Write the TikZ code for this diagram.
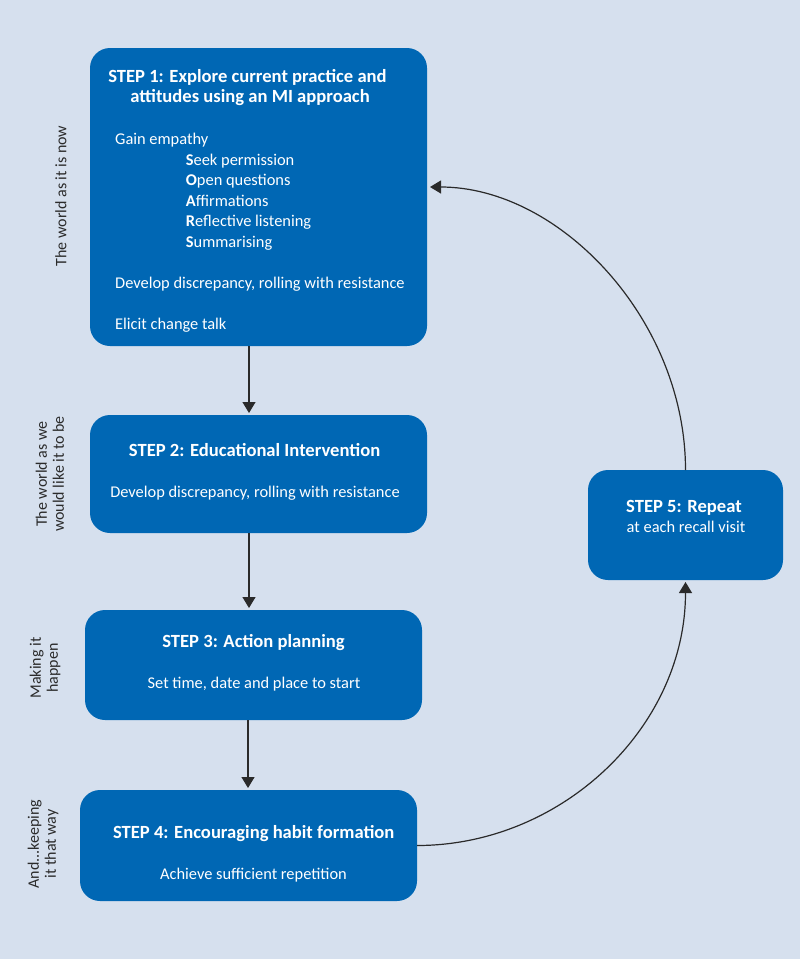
\documentclass[tikz,border=0pt]{standalone}
\usepackage{fontspec}
\setmainfont{Carlito}
\usetikzlibrary{arrows.meta}
\definecolor{bg}{HTML}{D6E0EE}
\definecolor{boxblue}{HTML}{0067B4}
\definecolor{sidegray}{HTML}{2B2B2B}
\definecolor{linegray}{HTML}{2A2A2A}
\tikzset{
  stepbox/.style={fill=boxblue, draw=none, rounded corners=20pt, inner sep=0pt, outer sep=0pt},
  titletext/.style={font=\bfseries\fontsize{18.6}{20}\selectfont, text=white, inner sep=0pt, anchor=base},
  bodytext/.style={font=\fontsize{16.4}{20}\selectfont, text=white, inner sep=0pt},
  sidelabel/.style={font=\fontsize{16}{17}\selectfont, text=sidegray, rotate=90, align=center, inner sep=0pt},
  conn/.style={draw=linegray, line width=1.2pt, -{Triangle[width=13pt,length=11pt]}},
}
\begin{document}
\begin{tikzpicture}[x=1pt,y=-1pt]
\fill[bg] (0,0) rectangle (800,959);
\useasboundingbox (0,0) rectangle (800,959);

% boxes
\node[stepbox, minimum width=337pt, minimum height=298pt] (b1) at (258.5,197) {};
\node[stepbox, minimum width=337pt, minimum height=118pt] (b2) at (258.5,474) {};
\node[stepbox, minimum width=337pt, minimum height=110pt] (b3) at (253.5,665) {};
\node[stepbox, minimum width=337pt, minimum height=111pt] (b4) at (248.5,845.5) {};
\node[stepbox, minimum width=195pt, minimum height=110pt] (b5) at (685.5,525) {};

% box 1 text
\node[titletext] (t1a) at (247.5,82.7) {STEP 1: Explore current practice and};
\node[titletext] (t1b) at (250,102.7) {attitudes using an MI approach};
\node[bodytext, anchor=base west] (t1c) at (115,144) {Gain empathy};
\node[bodytext, anchor=base west] (t1d) at (185.7,165) {\textbf{S}eek permission};
\node[bodytext, anchor=base west] (t1e) at (185.7,185.7) {\textbf{O}pen questions};
\node[bodytext, anchor=base west] (t1f) at (185.7,206) {\textbf{A}ffirmations};
\node[bodytext, anchor=base west] (t1g) at (185.7,226.7) {\textbf{R}eflective listening};
\node[bodytext, anchor=base west] (t1h) at (185.7,247) {\textbf{S}ummarising};
\node[bodytext, anchor=base west] (t1i) at (115,288) {Develop discrepancy, rolling with resistance};
\node[bodytext, anchor=base west] (t1j) at (115,329) {Elicit change talk};

% box 2 text
\node[titletext] (t2a) at (254.6,456) {STEP 2: Educational Intervention};
\node[bodytext, anchor=base] (t2b) at (255,497) {Develop discrepancy, rolling with resistance};

% box 3 text
\node[titletext] (t3a) at (253.5,647.7) {STEP 3: Action planning};
\node[bodytext, anchor=base] (t3b) at (254,688) {Set time, date and place to start};

% box 4 text
\node[titletext] (t4a) at (253.7,838) {STEP 4: Encouraging habit formation};
\node[bodytext, anchor=base] (t4b) at (253.5,879) {Achieve sufficient repetition};

% box 5 text
\node[titletext] (t5a) at (684,512) {STEP 5: Repeat};
\node[bodytext, anchor=base] (t5b) at (686,532) {at each recall visit};

% side labels
\node[sidelabel] (s1) at (61,196) {The world as it is now};
\node[sidelabel] (s2) at (50,474) {The world as we\\would like it to be};
\node[sidelabel] (s3) at (45,668) {Making it\\happen};
\node[sidelabel] (s4) at (43,844) {And...keeping\\it that way};

% connectors
\draw[conn] ([xshift=-9.5pt]b1.south) -- ([xshift=-9.5pt,yshift=2pt]b2.north);
\draw[conn] ([xshift=-9.5pt]b2.south) -- ([xshift=-4.5pt,yshift=2pt]b3.north);
\draw[conn] ([xshift=-5.5pt]b3.south) -- ([xshift=-0.5pt,yshift=2pt]b4.north);
\draw[conn] (b4.east) .. controls +(145pt,0pt) and +(0pt,-145pt) .. ([yshift=-2pt]b5.south);
\draw[conn] (b5.north) .. controls +(0pt,150pt) and +(130pt,0pt) .. ([xshift=3pt,yshift=10pt]b1.east);
\end{tikzpicture}
\end{document}
